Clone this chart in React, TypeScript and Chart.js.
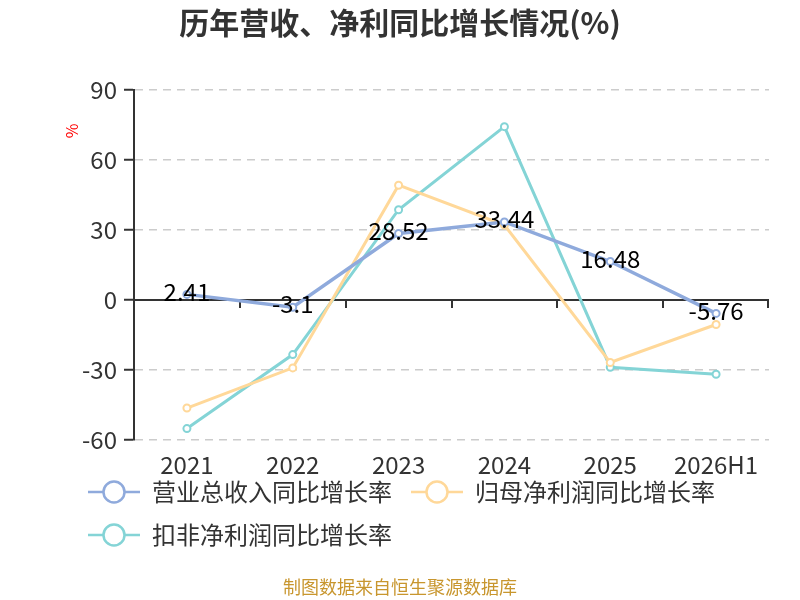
import React, { useEffect, useRef } from 'react';
import { Chart, registerables } from 'chart.js';

Chart.register(...registerables);

const categories = ['2021', '2022', '2023', '2024', '2025', '2026H1'];
const revenueGrowth = [2.41, -3.1, 28.52, 33.44, 16.48, -5.76];
const netProfitGrowth = [-46.3, -29.1, 49.2, 32.1, -26.8, -10.5];
const deductedProfitGrowth = [-55.1, -23.4, 38.7, 74.3, -28.8, -31.8];
const seriesNames = ['营业总收入同比增长率', '归母净利润同比增长率', '扣非净利润同比增长率'];
const seriesColors = ['#8FAADC', '#FFD899', '#84D4D6'];
const yTicks = [-60, -30, 0, 30, 60, 90];
const titleText = '历年营收、净利同比增长情况(%)';
const footerText = '制图数据来自恒生聚源数据库';
const yUnit = '%';

const FONT = "'Noto Sans CJK SC', 'Noto Sans', sans-serif";
const LEGEND_TOP = 461;

function makeIcon(color: string) {
  const c = document.createElement('canvas');
  c.width = 52;
  c.height = 26;
  const g = c.getContext('2d')!;
  g.strokeStyle = color;
  g.lineWidth = 2.5;
  g.beginPath();
  g.moveTo(0, 13);
  g.lineTo(52, 13);
  g.stroke();
  g.beginPath();
  g.arc(26, 13, 10.5, 0, Math.PI * 2);
  g.fillStyle = '#fff';
  g.fill();
  g.stroke();
  return c;
}

const decorPlugin = {
  id: 'decor',
  afterLayout(chart: any) {
    const lg = chart.legend;
    if (lg) {
      const dy = LEGEND_TOP - lg.top;
      lg.top += dy;
      lg.bottom += dy;
    }
  },
  beforeDatasetsDraw(chart: any) {
    const { ctx, chartArea, scales } = chart;
    const x = scales.x;
    const y0 = scales.y.getPixelForValue(0);
    ctx.save();
    ctx.strokeStyle = '#333';
    ctx.lineWidth = 2;
    ctx.beginPath();
    ctx.moveTo(chartArea.left, y0);
    ctx.lineTo(chartArea.right, y0);
    ctx.stroke();
    ctx.beginPath();
    for (let i = 0; i < categories.length; i++) {
      const bx =
        i < categories.length - 1
          ? (x.getPixelForValue(i) + x.getPixelForValue(i + 1)) / 2
          : chartArea.right - 1;
      ctx.moveTo(Math.round(bx), y0);
      ctx.lineTo(Math.round(bx), y0 + 8);
    }
    ctx.stroke();
    ctx.restore();
  },
  afterDatasetsDraw(chart: any) {
    const { ctx } = chart;
    const meta = chart.getDatasetMeta(0);
    ctx.save();
    ctx.font = `24px ${FONT}`;
    ctx.fillStyle = '#000';
    ctx.textAlign = 'center';
    ctx.textBaseline = 'middle';
    meta.data.forEach((pt: any, i: number) => {
      ctx.fillText(String(revenueGrowth[i]), pt.x, pt.y - 3);
    });
    ctx.restore();
  },
  afterDraw(chart: any) {
    const { ctx, width } = chart;
    ctx.save();
    ctx.textAlign = 'center';
    ctx.textBaseline = 'middle';
    ctx.fillStyle = '#333';
    ctx.font = `bold 30px ${FONT}`;
    ctx.fillText(titleText, width / 2, 23);
    ctx.fillStyle = '#C8962E';
    ctx.font = `18px ${FONT}`;
    ctx.fillText(footerText, width / 2, 587);
    ctx.translate(72, 131);
    ctx.rotate(-Math.PI / 2);
    ctx.fillStyle = '#FF0000';
    ctx.font = `16px ${FONT}`;
    ctx.fillText(yUnit, 0, 0);
    ctx.restore();
  },
};

export default function App() {
  const ref = useRef<HTMLCanvasElement>(null);

  useEffect(() => {
    document.body.style.margin = '0';
    const icons = seriesColors.map(makeIcon);
    const values = [revenueGrowth, netProfitGrowth, deductedProfitGrowth];
    const chart = new Chart(ref.current!, {
      type: 'line',
      data: {
        labels: categories,
        datasets: values.map((d, i) => ({
          label: seriesNames[i],
          data: d,
          borderColor: seriesColors[i],
          backgroundColor: '#fff',
          borderWidth: i === 0 ? 3.5 : 3,
          pointRadius: 3.5,
          pointBorderWidth: 2,
          pointBackgroundColor: '#fff',
          pointBorderColor: seriesColors[i],
          pointHoverRadius: 3.5,
          tension: 0,
        })),
      },
      options: {
        responsive: false,
        animation: false,
        font: { family: FONT },
        layout: { padding: { top: 90, left: 69, right: 31, bottom: 24 } },
        plugins: {
          title: { display: false },
          tooltip: { enabled: false },
          legend: {
            position: 'bottom',
            align: 'start',
            labels: {
              usePointStyle: true,
              pointStyleWidth: 52,
              padding: 19,
              color: '#333',
              font: { size: 24, family: FONT },
              generateLabels: (c: any) =>
                c.data.datasets.map((ds: any, i: number) => ({
                  text: ds.label,
                  pointStyle: icons[i],
                  fillStyle: '#fff',
                  strokeStyle: seriesColors[i],
                  lineWidth: 0,
                  hidden: !c.isDatasetVisible(i),
                  datasetIndex: i,
                  fontColor: '#333',
                })),
            },
          },
        },
        scales: {
          x: {
            offset: true,
            grid: { display: false, drawTicks: false },
            border: { display: false },
            ticks: { font: { size: 24, family: FONT }, color: '#333', padding: 10, maxRotation: 0 },
            afterFit: (s: any) => {
              s.height = 40;
            },
          },
          y: {
            min: -60,
            max: 90,
            afterBuildTicks: (s: any) => {
              s.ticks = yTicks.map((v) => ({ value: v }));
            },
            ticks: { font: { size: 24, family: FONT }, color: '#333', padding: 7 },
            grid: {
              color: '#CCCCCC',
              lineWidth: 1.5,
              tickColor: '#333',
              tickLength: 10,
              tickWidth: 2,
              tickBorderDash: [],
            },
            border: { display: true, color: '#333', width: 2, dash: [8, 6] },
            afterFit: (s: any) => {
              s.width = 65;
            },
          },
        },
      } as any,
      plugins: [decorPlugin],
    });
    return () => chart.destroy();
  }, []);

  return (
    <div style={{ width: 800, height: 600 }}>
      <canvas ref={ref} width={800} height={600} />
    </div>
  );
}
